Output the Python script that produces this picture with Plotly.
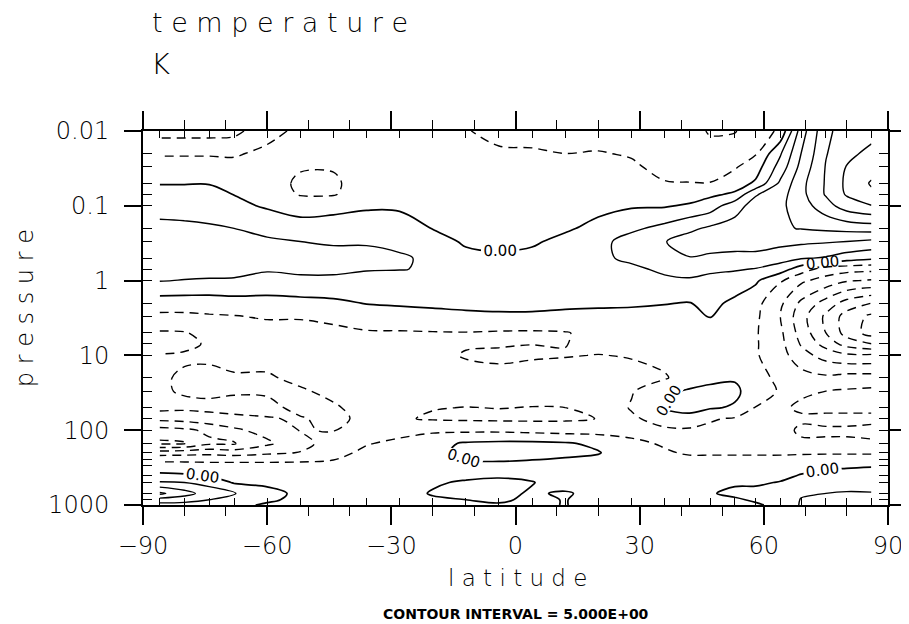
import plotly.graph_objects as go

# latitudes (deg) of the data columns
lats = [-86, -80, -74, -68, -60, -52, -44, -36, -28, -20, -12, -4, 4, 12, 20, 28,
        36, 42, 47, 53, 58, 64, 69, 75, 80, 86]

# pressure levels (hPa)
levels = [0.01, 0.02, 0.03, 0.05, 0.07, 0.1, 0.2, 0.3, 0.5, 0.7, 1, 2, 3, 5, 7, 10,
          20, 30, 50, 70, 100, 150, 200, 250, 300, 400, 500, 700, 850, 1000]

# temperature difference (K), one row per pressure level, columns follow lats
t_001 = [-12, -12, -12, -11.5, -6.5, -4, -3, -3, -3.5, -4, -4.8, -6, -6.5, -6.5, -6.5, -6.5, -7, -8, -10.5, -10.2, -8, -4, 12.5, 24, 27, 28]
t_002 = [-5.5, -5.5, -5.5, -5.5, -4, -3.5, -3.5, -2.5, -2.5, -3, -4, -4.5, -4.5, -5, -4.8, -5.3, -6.5, -7, -8, -8, -5.5, 4.5, 15, 24.7, 28.5, 31.5]
t_003 = [-3, -3, -3, -3.7, -3, -4.5, -4.5, -2.5, -2.5, -2.5, -3.5, -4, -4, -4, -4, -4.5, -6, -6.3, -6.5, -5.5, -2.5, 7, 16.5, 25.3, 30.2, 33]
t_005 = [-0.2, -0.2, -0.2, -1.5, -2.5, -6, -6, -2, -2, -2, -3, -3.5, -3.5, -3.5, -3.5, -4, -4.8, -4.9, -4.9, -2.5, 0.8, 11, 18.5, 25.5, 31, 35.5]
t_007 = [1.5, 1.5, 1.5, -0.1, -1.5, -5.5, -5.5, -1.5, -1.5, -1.5, -2.5, -3, -3, -3, -2.5, -3, -3.5, -3, -1, 0.8, 9.5, 13, 18.5, 25.5, 30.5, 34]
t_01 = [3.5, 3, 3, 1, -0.5, -1.5, -1, -0.5, -0.5, -1, -2, -2.5, -2.5, -2, -1, -0.5, -0.5, 0.8, 2.5, 8, 12, 14, 17.5, 23, 27.5, 29.8]
t_02 = [6, 6, 5.5, 5, 3, 1.5, 1.5, 2, 1.5, -0.1, -1.5, -1.5, -1.5, -0.5, 1, 4, 6.5, 9, 10.8, 12, 13.5, 14.5, 15.2, 16, 16.7, 17.3]
t_03 = [7, 7, 7, 7, 6, 5, 4.5, 4.5, 3, 1.5, -0.5, -0.7, -0.5, 1, 3.5, 7, 9.8, 12, 12.5, 13, 13, 11.5, 11, 10.5, 10, 9]
t_05 = [8, 8, 8, 8, 7.5, 7, 6.5, 6.5, 6, 3.5, 1, 0.5, 1, 2, 4, 6, 8, 9.8, 9, 8, 8, 7, 5.5, 4.5, 2.5, 1]
t_07 = [7, 7, 7, 6.5, 5.5, 6, 6, 5.3, 5.2, 4.5, 2, 1.5, 1.5, 2, 3, 4, 6, 6.5, 6, 5.5, 4.8, 2.5, -2.5, -7, -8, -8.5]
t_1 = [5.2, 4.8, 4.5, 4.5, 3.5, 4, 4, 3.5, 3, 3, 2.5, 2, 2, 2, 2, 3, 4, 4.5, 3.5, 2.5, 0.8, -4.5, -9, -12, -14.5, -15.5]
t_2 = [-2.5, -2.5, -2.5, -2, -1.8, -1.5, -1, 0.2, 0.5, 0.8, 1.2, 1.5, 1.5, 0.8, 0.8, 0.5, 0.2, -0.2, 1.2, -1, -3.5, -9, -16, -22, -27, -30]
t_3 = [-6, -6, -5.5, -5.2, -4.5, -4.5, -4, -2.4, -1.7, -1.3, -1, -0.8, -0.8, -0.9, -1.3, -1.1, -1.5, -1, 0.2, -2, -4, -10, -18, -26, -32, -36]
t_5 = [-10.5, -10.3, -8.5, -7, -7, -7, -6, -5.5, -5.5, -5.3, -5.2, -5.5, -5.6, -5.3, -3.5, -3, -2.5, -2, -1.5, -3, -4.5, -9, -17, -25, -32, -37]
t_7 = [-11.5, -11, -9.5, -8, -8, -8, -7, -6.5, -6, -6, -5.5, -5.3, -5.05, -5.1, -4, -3.5, -3, -2.5, -2.5, -3.5, -4.5, -8.5, -15.5, -22, -27, -30]
t_10 = [-9.8, -9.5, -9.3, -8.5, -8.5, -8.5, -7.5, -7, -6.5, -6.5, -4.6, -4.4, -4.5, -4.8, -5.1, -4.8, -3.5, -3, -3, -3.5, -4.5, -8, -13, -17, -19, -19]
t_20 = [-9.5, -10.5, -11, -10.5, -10.5, -9, -8, -7, -7, -7, -7, -6, -7, -7, -7, -6, -5.5, -2.5, -1, -0.5, -3.5, -6, -8, -9, -8, -8]
t_30 = [-9.5, -10.4, -10.8, -10.5, -10.5, -10.5, -9, -7.5, -7.5, -8, -8, -8, -8.5, -8.5, -8, -5.5, -1, 0.5, 1, 1, -2.5, -5.5, -5.5, -5, -4.5, -4]
t_50 = [-8.5, -9, -9, -8.5, -9, -11, -10.5, -8.5, -8, -9.8, -10.1, -9.9, -10.1, -10, -9.5, -4.5, 0.5, 1.5, 0.5, -0.5, -5.2, -5.5, -4.5, -4, -4, -4]
t_70 = [-13.5, -13, -11.5, -11, -10.2, -9.7, -11, -9, -9.5, -10.5, -10.8, -11, -11, -10.8, -9.9, -6, -2.5, -1.5, -4.5, -5.5, -5.5, -6, -5.5, -6, -6, -6]
t_100 = [-22, -21, -19, -16, -13, -9.8, -10.2, -7, -6.5, -6, -6, -6, -6.5, -7, -7, -6.5, -6, -5.8, -6, -6, -6, -6, -4.5, -4.5, -4.5, -4]
t_150 = [-26, -25.5, -21, -20.5, -16, -11.5, -8, -5.3, -4, -1.5, 0.5, 1, 1, 0.5, -1, -4, -5.5, -6, -6, -6, -5.5, -6, -5.5, -5.5, -5.5, -5.5]
t_200 = [-12.5, -12, -11.5, -12.5, -11, -9.8, -6.5, -4, -3, -1, 1, 2, 1.5, 1, 0.3, -3, -4.5, -5.5, -5.5, -5.5, -5.5, -5.5, -5.5, -5.5, -5.5, -5.5]
t_250 = [-6, -6, -6, -6, -6, -5.5, -5, -3.5, -2.5, -1.5, 0, 0.5, 0, -0.5, -1, -2.5, -3.5, -4, -4, -4, -4, -4, -3.5, -3, -3, -3]
t_300 = [-3, -3, -3.5, -3.5, -3.5, -4, -4, -3, -2.5, -2, -1.5, -1.5, -1.5, -2, -2, -2.5, -3, -3.5, -3, -3, -2.5, -2, -1.5, -1, -0.7, -0.3]
t_400 = [1, 0.5, -0.5, -1.5, -2.5, -3, -3, -3, -2, -1, -1, -0.5, -1, -2, -2.5, -2.5, -3, -3, -2, -1.5, -1.5, -1, 0.2, 1.5, 2, 2]
t_500 = [5.5, 5, 3.5, -0.5, -1, -2.5, -2.5, -2.5, -1.5, -0.5, 0.5, 0.8, 0.2, -2, -2.5, -2.5, -2.5, -2, -1.5, -0.5, -0.5, 0.2, 2, 3, 3.5, 3.5]
t_700 = [16, 12, 7.5, 5.2, 1.5, -1, -2, -2, -1.5, 0.3, 1, 1.2, -0.5, 0.5, -1.5, -2, -2, -1, -0.3, 0.8, 1, 2, 4.5, 5, 5.3, 5.2]
t_850 = [8, 7, 5, 3, 1, -1.5, -2, -2, -2, -0.5, 0, 0.8, -1, 0.2, -2, -2, -2, -1.5, -1, -0.5, 0.5, 2, 5.2, 6, 6, 6]
t_1000 = [3, 3, 2, 1.5, -0.8, -2, -2, -2, -2, -1, -0.5, -0.5, -1, 0.2, -2, -2, -2, -2, -1.5, -1, -0.5, 1, 5.5, 6, 6, 6]

temp = [t_001, t_002, t_003, t_005, t_007, t_01, t_02, t_03, t_05, t_07, t_1, t_2, t_3,
        t_5, t_7, t_10, t_20, t_30, t_50, t_70, t_100, t_150, t_200, t_250, t_300,
        t_400, t_500, t_700, t_850, t_1000]

x_ticks = [-90, -60, -30, 0, 30, 60, 90]
x_tick_labels = ["\u221290", "\u221260", "\u221230", "0", "30", "60", "90"]
y_ticks = [0.01, 0.1, 1, 10, 100, 1000]
y_tick_labels = ["0.01", "0.1", "1", "10", "100", "1000"]

FONT = "DejaVu Sans"
TICKFONT = dict(family=FONT, size=24, color="black", weight=200)
fig = go.Figure()

common = dict(x=lats, y=levels, z=temp, showscale=False, hoverinfo="skip")

# negative contours (dashed)
fig.add_trace(go.Contour(
    **common,
    contours=dict(start=-50, end=-5, size=5, coloring="none"),
    line=dict(color="black", width=1.4, dash="9px,6px"),
))
# positive contours (solid)
fig.add_trace(go.Contour(
    **common,
    contours=dict(start=5, end=50, size=5, coloring="none"),
    line=dict(color="black", width=1.4),
))
# zero contour (solid, labelled)
fig.add_trace(go.Contour(
    **common,
    contours=dict(start=0, end=0, size=5, coloring="none", showlabels=True,
                  labelformat=".2f",
                  labelfont=dict(family=FONT, size=15, color="black")),
    line=dict(color="black", width=1.7),
))

fig.update_layout(
    width=901, height=616,
    paper_bgcolor="white", plot_bgcolor="white",
    margin=dict(l=135, r=21, t=123, b=119, autoexpand=False),
    showlegend=False,
    font=dict(family=FONT, color="black"),
    xaxis=dict(
        range=[-90, 90], tickvals=x_ticks, ticktext=x_tick_labels,
        ticks="outside", ticklen=18, tickwidth=1.5, tickcolor="black",
        minor=dict(dtick=10, ticks="outside", ticklen=9, tickcolor="black", tickwidth=1.2),
        showline=True, linecolor="black", linewidth=2, mirror="ticks",
        showgrid=False, zeroline=False, tickfont=TICKFONT,
    ),
    yaxis=dict(
        type="log", range=[3, -2], tickvals=y_ticks, ticktext=y_tick_labels,
        ticks="outside", ticklen=17, tickwidth=1.5, tickcolor="black",
        ticklabelstandoff=10,
        showline=True, linecolor="black", linewidth=2, mirror="ticks",
        showgrid=False, zeroline=False, tickfont=TICKFONT,
    ),
)

# inward ticks marking data levels / latitudes
fig.update_layout(
    xaxis2=dict(overlaying="x", range=[-90, 90], tickvals=lats, ticks="inside",
                ticklen=7, tickcolor="black", tickwidth=1.2, showticklabels=False,
                showgrid=False, zeroline=False, showline=False, side="top", mirror="ticks"),
    yaxis2=dict(overlaying="y", type="log", range=[3, -2],
                tickvals=levels[1:-1], ticks="inside", ticklen=9, tickcolor="black",
                tickwidth=1.2, showticklabels=False, showgrid=False, zeroline=False,
                showline=False, mirror="ticks"),
)
fig.add_trace(go.Scatter(x=[lats[0]], y=[levels[-1]], xaxis="x2", yaxis="y2",
                         mode="markers", marker=dict(opacity=0), hoverinfo="skip"))

fig.add_annotation(text="t e m p e r a t u r e", xref="paper", yref="paper",
                   x=0.010, y=1.291, xanchor="left", yanchor="middle",
                   showarrow=False, font=dict(family=FONT, size=27, color="black", weight=200))
fig.add_annotation(text="K", xref="paper", yref="paper", x=0.008, y=1.18,
                   xanchor="left", yanchor="middle", showarrow=False,
                   font=dict(family=FONT, size=29, color="black", weight=200))
fig.add_annotation(text="p r e s s u r e", xref="paper", yref="paper",
                   x=-0.159, y=0.525, xanchor="center", yanchor="middle", textangle=-90,
                   showarrow=False, font=dict(family=FONT, size=24, color="black", weight=200))
fig.add_annotation(text="l a t i t u d e", xref="paper", yref="paper",
                   x=0.503, y=-0.195, xanchor="center", yanchor="middle",
                   showarrow=False, font=dict(family=FONT, size=23, color="black", weight=200))
fig.add_annotation(text="<b>CONTOUR INTERVAL = 5.000E+00</b>", xref="paper", yref="paper",
                   x=0.5, y=-0.291, xanchor="center", yanchor="middle",
                   showarrow=False, font=dict(family=FONT, size=14, color="black"))

fig.write_html("out.html")
